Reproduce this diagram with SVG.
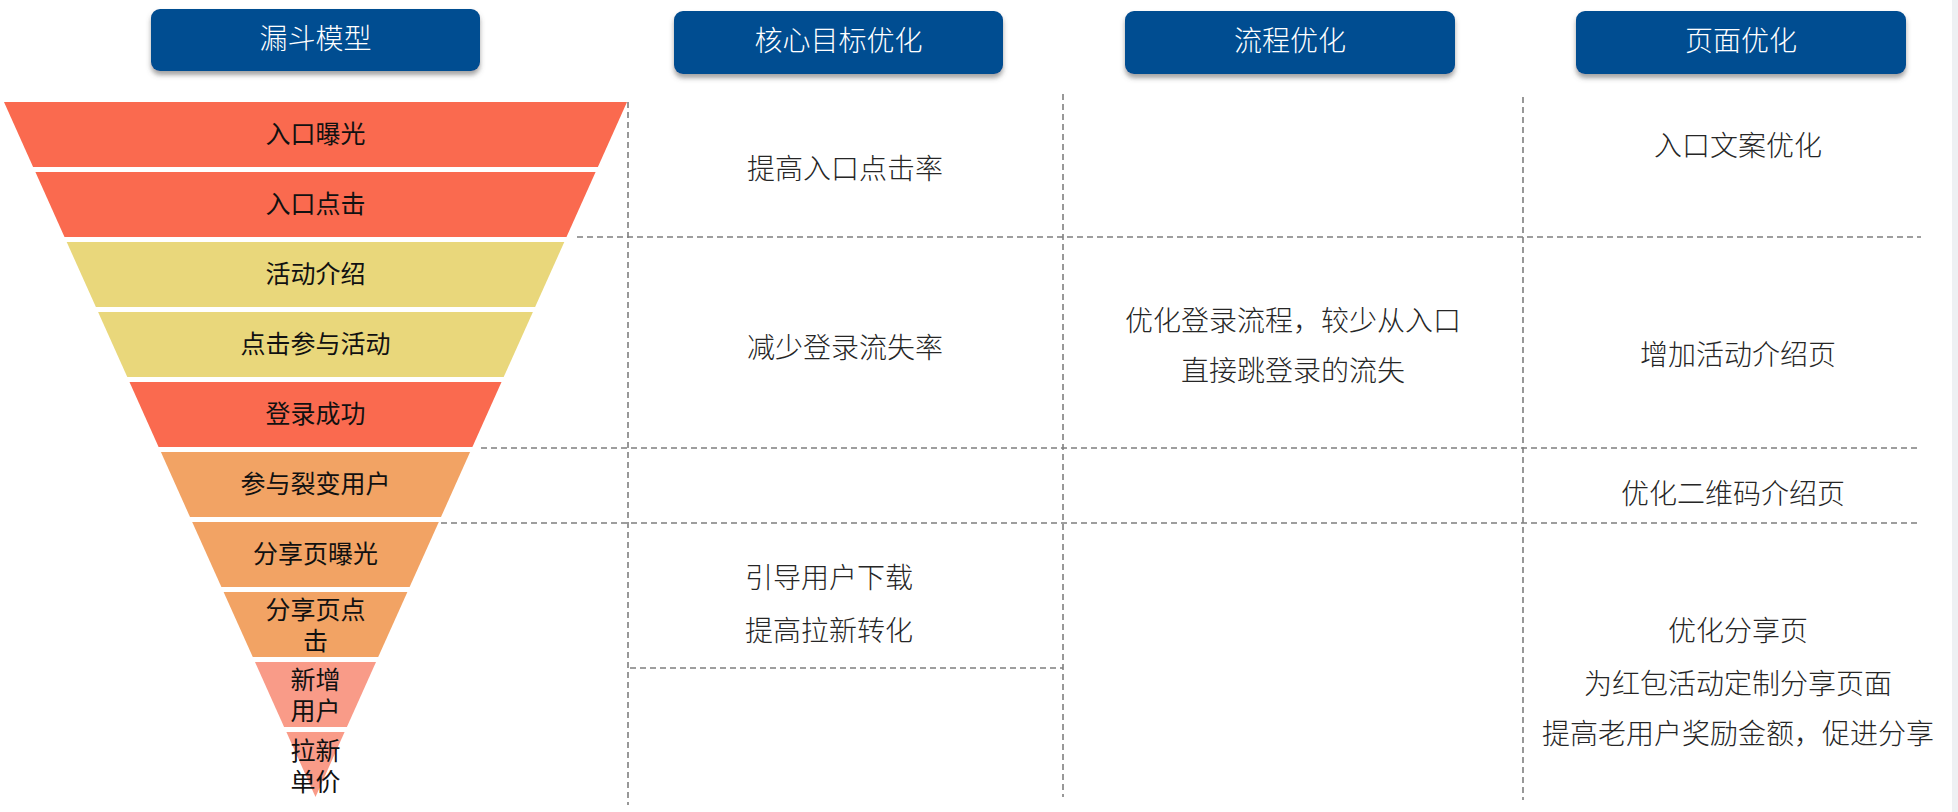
<svg xmlns="http://www.w3.org/2000/svg" width="1958" height="812" viewBox="0 0 1958 812">
<defs>
<filter id="sh" x="-10%" y="-20%" width="120%" height="150%">
<feDropShadow dx="0" dy="4" stdDeviation="2.5" flood-color="#555" flood-opacity="0.55"/>
</filter>
</defs>
<style>
.hdr{fill:#034e91;filter:url(#sh)}
.ht{fill:#ffffff;font-family:"Liberation Serif","Noto Sans CJK SC",serif;font-size:28px;font-weight:300;text-anchor:middle;dominant-baseline:central}
.ft{fill:#111111;font-family:"Liberation Serif","Noto Sans CJK SC",serif;font-size:25px;text-anchor:middle;dominant-baseline:central}
.tt{fill:#262626;font-family:"Liberation Serif","Noto Sans CJK SC",serif;font-size:28px;font-weight:300;text-anchor:middle;dominant-baseline:central}
.red{fill:#fa6a4f}
.yel{fill:#e9d77b}
.org{fill:#f2a364}
.sal{fill:#f99b88}
.dl{stroke:#7f7f7f;stroke-width:1.6;stroke-dasharray:6 4;fill:none}
</style>
<rect x="0" y="0" width="1958" height="812" fill="#ffffff"/>
<rect x="1952" y="0" width="6" height="812" fill="#eef0f3"/>

<g id="connectors">
<line class="dl" x1="628" y1="102" x2="628" y2="805"/>
<line class="dl" x1="1063" y1="94" x2="1063" y2="797"/>
<line class="dl" x1="1523" y1="97" x2="1523" y2="800"/>
<line class="dl" x1="577" y1="237" x2="1921" y2="237"/>
<line class="dl" x1="481" y1="448" x2="1921" y2="448"/>
<line class="dl" x1="441" y1="523" x2="1921" y2="523"/>
<line class="dl" x1="630" y1="668" x2="1063" y2="668"/>
</g>

<g id="header-funnel"><rect class="hdr" x="151" y="9" width="329" height="62" rx="9"/><text class="ht" x="315.5" y="39">漏斗模型</text></g>
<g id="header-core"><rect class="hdr" x="674" y="11" width="329" height="63" rx="9"/><text class="ht" x="838.5" y="41">核心目标优化</text></g>
<g id="header-flow"><rect class="hdr" x="1125" y="11" width="330" height="63" rx="9"/><text class="ht" x="1290" y="41">流程优化</text></g>
<g id="header-page"><rect class="hdr" x="1576" y="11" width="330" height="63" rx="9"/><text class="ht" x="1741" y="41">页面优化</text></g>

<g id="band1"><polygon class="red" points="4,102 627,102 597.9,167 33.1,167"/><text class="ft" x="315.5" y="134.5">入口曝光</text></g>
<g id="band2"><polygon class="red" points="35.4,172 595.6,172 566.5,237 64.5,237"/><text class="ft" x="315.5" y="204.5">入口点击</text></g>
<g id="band3"><polygon class="yel" points="66.7,242 564.3,242 535.1,307 95.9,307"/><text class="ft" x="315.5" y="274.5">活动介绍</text></g>
<g id="band4"><polygon class="yel" points="98.1,312 532.9,312 503.7,377 127.3,377"/><text class="ft" x="315.5" y="344.5">点击参与活动</text></g>
<g id="band5"><polygon class="red" points="129.5,382 501.5,382 472.4,447 158.6,447"/><text class="ft" x="315.5" y="414.5">登录成功</text></g>
<g id="band6"><polygon class="org" points="160.9,452 470.1,452 441,517 190,517"/><text class="ft" x="315.5" y="484.5">参与裂变用户</text></g>
<g id="band7"><polygon class="org" points="192.2,522 438.8,522 409.6,587 221.4,587"/><text class="ft" x="315.5" y="554.5">分享页曝光</text></g>
<g id="band8"><polygon class="org" points="223.6,592 407.4,592 378.2,657 252.8,657"/><text class="ft" x="315.5" y="610">分享页点</text><text class="ft" x="315.5" y="641">击</text></g>
<g id="band9"><polygon class="sal" points="255,662 376,662 346.9,727 284.1,727"/><text class="ft" x="315.5" y="680">新增</text><text class="ft" x="315.5" y="711">用户</text></g>
<g id="band10"><polygon class="sal" points="286.4,732 344.6,732 315.5,797"/><text class="ft" x="315.5" y="751">拉新</text><text class="ft" x="315.5" y="782">单价</text></g>

<g id="core-texts">
<text class="tt" x="845" y="169">提高入口点击率</text>
<text class="tt" x="845" y="348">减少登录流失率</text>
<text class="tt" x="829" y="578">引导用户下载</text>
<text class="tt" x="829" y="631">提高拉新转化</text>
</g>
<g id="flow-texts">
<text class="tt" x="1293" y="321">优化登录流程，较少从入口</text>
<text class="tt" x="1293" y="371">直接跳登录的流失</text>
</g>
<g id="page-texts">
<text class="tt" x="1738" y="146">入口文案优化</text>
<text class="tt" x="1738" y="355">增加活动介绍页</text>
<text class="tt" x="1733" y="494">优化二维码介绍页</text>
<text class="tt" x="1738" y="631">优化分享页</text>
<text class="tt" x="1738" y="684">为红包活动定制分享页面</text>
<text class="tt" x="1738" y="734">提高老用户奖励金额，促进分享</text>
</g>
</svg>
